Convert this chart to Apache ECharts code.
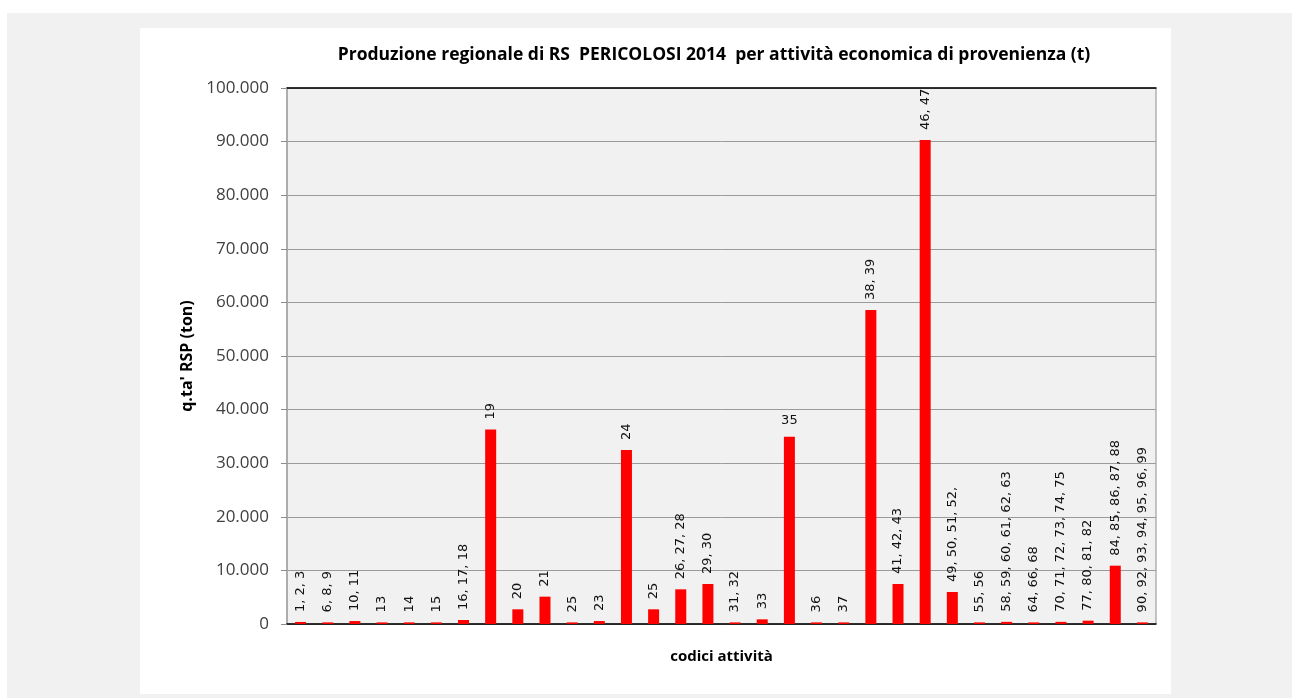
<!DOCTYPE html>
<html>
<head>
<meta charset="utf-8">
<style>
  html, body { margin: 0; padding: 0; background: #ffffff; }
  #chart { width: 1292px; height: 698px; }
</style>
<script src="https://cdn.jsdelivr.net/npm/echarts@6/dist/echarts.min.js"></script>
</head>
<body>
<div id="chart"></div>
<script>
// Activity codes (ATECO groups)
const categories = [
  '1, 2, 3', '6, 8, 9', '10, 11', '13', '14', '15', '16, 17, 18', '19', '20', '21',
  '25', '23', '24', '25', '26, 27, 28', '29, 30', '31, 32', '33', '35', '36', '37',
  '38, 39', '41, 42, 43', '46, 47', '49, 50, 51, 52,', '55, 56',
  '58, 59, 60, 61, 62, 63', '64, 66, 68', '70, 71, 72, 73, 74, 75', '77, 80, 81, 82',
  '84, 85, 86, 87, 88', '90, 92, 93, 94, 95, 96, 99'
];

// Hazardous special waste produced, tonnes
const values = [
  380, 300, 550, 300, 300, 300, 750, 36300, 2740, 5100,
  300, 550, 32450, 2740, 6470, 7460, 300, 870, 34950, 300, 300,
  58580, 7460, 90300, 5970, 300,
  400, 300, 400, 620,
  10880, 300
];

// Category whose label is drawn horizontally
const horizontalLabels = ['35'];

const yTicks = { min: 0, max: 100000, interval: 10000 };

function fmtThousands(v) {
  return String(v).replace(/\B(?=(\d{3})+(?!\d))/g, '.');
}

const chart = echarts.init(document.getElementById('chart'), null, { renderer: 'canvas' });

const seriesData = values.map((v, i) => {
  const item = { value: v };
  if (horizontalLabels.includes(categories[i])) {
    item.label = { rotate: 0, align: 'center', verticalAlign: 'bottom', distance: 10 };
  }
  return item;
});

chart.setOption({
  animation: false,
  backgroundColor: '#ffffff',
  graphic: [
    { type: 'rect', z: -10, silent: true, shape: { x: 7, y: 13, width: 1285, height: 685 }, style: { fill: '#f1f1f1' } },
    { type: 'rect', z: -9, silent: true, shape: { x: 140, y: 28, width: 1031, height: 666 }, style: { fill: '#ffffff' } }
  ],
  title: {
    text: 'Produzione regionale di RS  PERICOLOSI 2014  per attività economica di provenienza (t)',
    left: 709, top: 41, textAlign: 'center',
    textStyle: { fontFamily: 'Open Sans', fontWeight: 'bold', fontSize: 17.5, color: '#000000' }
  },
  grid: {
    left: 287, right: 136, top: 88, bottom: 74,
    show: true, backgroundColor: '#f1f1f1', borderColor: '#8c8c8c', borderWidth: 1
  },
  xAxis: [
    {
      type: 'category', data: categories, position: 'bottom',
      axisLine: { lineStyle: { color: '#000000', width: 1.5 } },
      axisTick: { show: false }, axisLabel: { show: false },
      name: 'codici attività', nameLocation: 'middle', nameGap: 25,
      nameTextStyle: { fontFamily: 'Open Sans', fontWeight: 'bold', fontSize: 15, color: '#000000' }
    },
    {
      type: 'category', data: categories, position: 'top',
      axisLine: { lineStyle: { color: '#000000', width: 1.5 } },
      axisTick: { show: false }, axisLabel: { show: false }
    }
  ],
  yAxis: {
    type: 'value', min: yTicks.min, max: yTicks.max, interval: yTicks.interval,
    axisLine: { show: true, lineStyle: { color: '#a6a6a6', width: 1.5 } },
    axisTick: { show: true, length: 6, lineStyle: { color: '#8c8c8c' } },
    axisLabel: {
      margin: 18, fontFamily: 'Open Sans', fontSize: 17, color: '#404040',
      formatter: fmtThousands
    },
    splitLine: { lineStyle: { color: '#9a9a9a', width: 1 } },
    name: "q.ta' RSP (ton)", nameLocation: 'middle', nameGap: 90, nameRotate: 90,
    nameTextStyle: { fontFamily: 'Open Sans', fontWeight: 'bold', fontSize: 16, color: '#000000' }
  },
  series: [{
    type: 'bar', xAxisIndex: 0, data: seriesData, barWidth: 11,
    itemStyle: { color: '#ff0000' },
    label: {
      show: true, position: 'top', rotate: 90, align: 'left', verticalAlign: 'middle',
      distance: 10, fontFamily: 'DejaVu Sans', fontSize: 13, color: '#111111',
      formatter: (p) => p.name
    }
  }]
});
</script>
</body>
</html>
